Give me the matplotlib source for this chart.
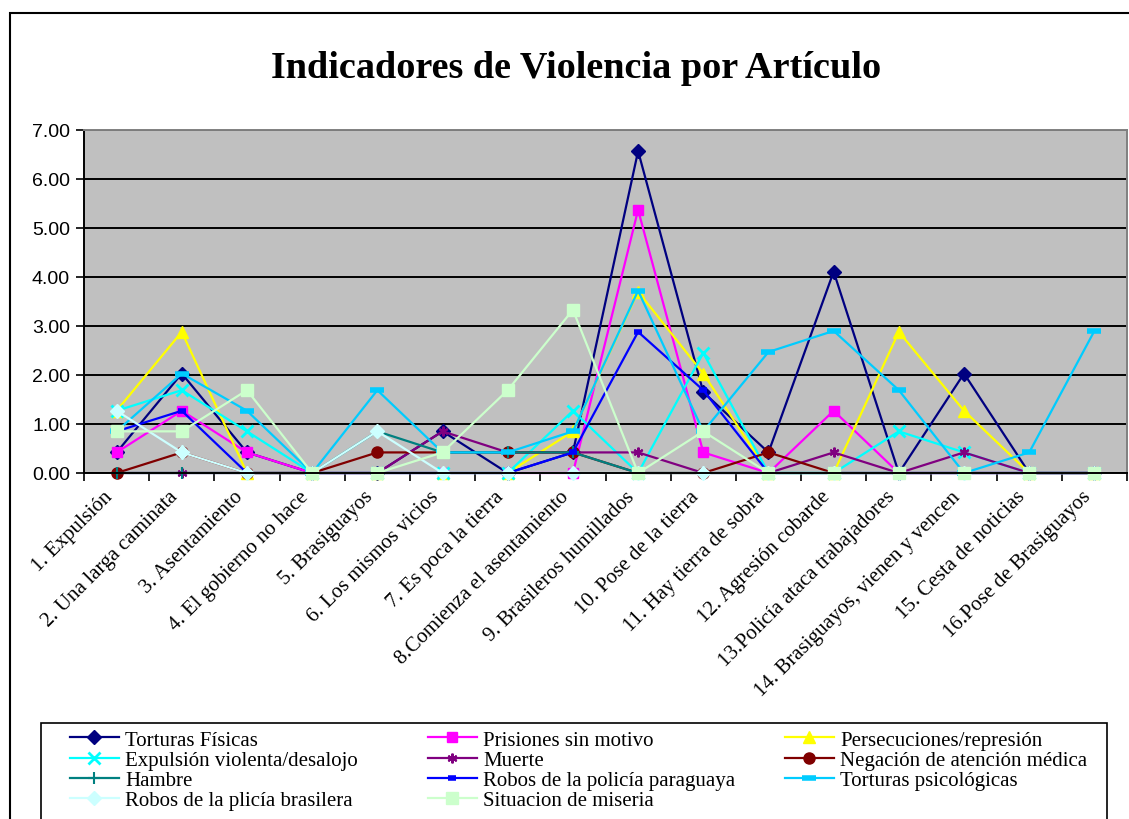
import matplotlib.pyplot as plt
from matplotlib.patches import Rectangle
from matplotlib.transforms import ScaledTranslation

# articulos (eje x)
categories = ["1. Expulsión", "2. Una larga caminata", "3. Asentamiento",
              "4. El gobierno no hace", "5. Brasiguayos", "6. Los mismos vicios",
              "7. Es poca la tierra", "8.Comienza el asentamiento",
              "9. Brasileros humillados", "10. Pose de la tierra",
              "11. Hay tierra de sobra", "12. Agresión cobarde",
              "13.Policía ataca trabajadores", "14. Brasiguayos, vienen y vencen",
              "15. Cesta de noticias", "16.Pose de Brasiguayos"]

torturas_fisicas = [0.42, 2.03, 0.42, 0, 0, 0.85, 0, 0.42, 6.57, 1.65, 0.42, 4.11, 0, 2.03, 0, 0]
prisiones = [0.42, 1.27, 0.42, 0, 0, 0, 0, 0, 5.37, 0.42, 0, 1.27, 0, 0, 0, 0]
persecuciones = [1.27, 2.88, 0, 0, 0, 0, 0, 0.85, 3.70, 2.03, 0, 0, 2.88, 1.27, 0, 0]
expulsion = [1.27, 1.69, 0.85, 0, 0, 0, 0, 1.27, 0, 2.45, 0, 0, 0.85, 0.42, 0, 0]
muerte = [0, 0, 0, 0, 0, 0.85, 0.42, 0.42, 0.42, 0, 0, 0.42, 0, 0.42, 0, 0]
negacion = [0, 0.42, 0, 0, 0.42, 0.42, 0.42, 0.42, 0, 0, 0.42, 0, 0, 0, 0, 0]
hambre = [0, 0, 0, 0, 0.85, 0.42, 0.42, 0.42, 0, 0, 0, 0, 0, 0, 0, 0]
robos_paraguaya = [0.85, 1.27, 0, 0, 0, 0, 0, 0.42, 2.88, 1.69, 0, 0, 0, 0, 0, 0]
torturas_psic = [0.85, 2.03, 1.27, 0, 1.69, 0.42, 0.42, 0.85, 3.72, 0.85, 2.47, 2.90, 1.69, 0, 0.42, 2.90]
robos_brasilera = [1.27, 0.42, 0, 0, 0.85, 0, 0, 0, 0, 0, 0, 0, 0, 0, 0, 0]
miseria = [0.85, 0.85, 1.69, 0, 0, 0.42, 1.69, 3.33, 0, 0.85, 0, 0, 0, 0, 0, 0]

series = [
    ("Torturas Físicas", torturas_fisicas, "#000080", "D", 7, 1),
    ("Prisiones sin motivo", prisiones, "#FF00FF", "s", 7, 1),
    ("Persecuciones/represión", persecuciones, "#FFFF00", "^", 9, 1),
    ("Expulsión violenta/desalojo", expulsion, "#00FFFF", "x", 8, 2),
    ("Muerte", muerte, "#800080", (6, 2, 0), 7, 1.5),
    ("Negación de atención médica", negacion, "#800000", "o", 8, 1),
    ("Hambre", hambre, "#008080", "+", 9, 1.5),
    ("Robos de la policía paraguaya", robos_paraguaya, "#0000FF", "_", 6, 4),
    ("Torturas psicológicas", torturas_psic, "#00CCFF", "_", 10, 4),
    ("Robos de la plicía brasilera", robos_brasilera, "#CCFFFF", "D", 7, 1),
    ("Situacion de miseria", miseria, "#CCFFCC", "s", 8, 1),
]

W, H = 1129, 820
fig = plt.figure(figsize=(W / 100, H / 100), dpi=100)

# borde del grafico
fig.patches.append(Rectangle((10 / W, -0.1), 1.2, (H - 14) / H + 0.1,
                             transform=fig.transFigure, fill=False,
                             ec="black", lw=1.5))

ax = fig.add_axes([84 / W, 1 - 474 / H, (1127 - 84) / W, (474 - 131) / H])
ax.set_facecolor("#C0C0C0")

x = list(range(1, len(categories) + 1))
handles = []
for name, vals, col, mk, ms, mew in series:
    ln, = ax.plot(x, vals, color=col, lw=1.6, marker=mk, ms=ms,
                  mfc=col, mec=col, mew=mew, label=name, clip_on=False)
    handles.append(ln)

ax.set_xlim(0.5, 16.5)
ax.set_ylim(0, 7)
ax.set_yticks(range(0, 8))
ax.set_yticklabels(["%.2f" % v for v in range(0, 8)],
                   fontfamily="Liberation Sans", fontsize=14)
ax.yaxis.grid(True, color="black", lw=1.4)
ax.set_axisbelow(True)
ax.tick_params(axis="y", direction="out", length=6, width=1.2, pad=4)

ax.set_xticks(x)
ax.set_xticklabels(categories, rotation=45, ha="right", va="top",
                   fontfamily="Liberation Serif", fontsize=15)
shift = ScaledTranslation(-8 / 100, 0, fig.dpi_scale_trans)
for lab in ax.get_xticklabels():
    lab.set_transform(lab.get_transform() + shift)
ax.set_xticks([i + 0.5 for i in range(0, 17)], minor=True)
ax.tick_params(axis="x", which="major", length=0, pad=10)
ax.tick_params(axis="x", which="minor", direction="out", length=6, width=1.2)

for s in ["left", "bottom"]:
    ax.spines[s].set_color("black")
    ax.spines[s].set_linewidth(1.4)
for s in ["top", "right"]:
    ax.spines[s].set_color("#808080")
    ax.spines[s].set_linewidth(1.4)

fig.text(576 / W, 1 - 68 / H, "Indicadores de Violencia por Artículo",
         ha="center", va="center", fontfamily="Liberation Serif",
         fontweight="bold", fontsize=27.5)

# leyenda: marco y tres columnas
fig.patches.append(Rectangle((41 / W, -0.05), (1107 - 41) / W, (H - 724) / H + 0.05,
                             transform=fig.transFigure, fill=False,
                             ec="black", lw=1.2))
col_x = [70, 428, 785]
for c in range(3):
    idx = list(range(c, len(handles), 3))
    fig.legend([handles[i] for i in idx], [series[i][0] for i in idx],
               loc="upper left", bbox_to_anchor=(col_x[c] / W, 1 - 731 / H),
               frameon=False, prop={"family": "Liberation Serif", "size": 15},
               handlelength=2.35, handletextpad=0.29, labelspacing=0.03,
               borderpad=0, borderaxespad=0)

fig.savefig("out.png", dpi=100)
